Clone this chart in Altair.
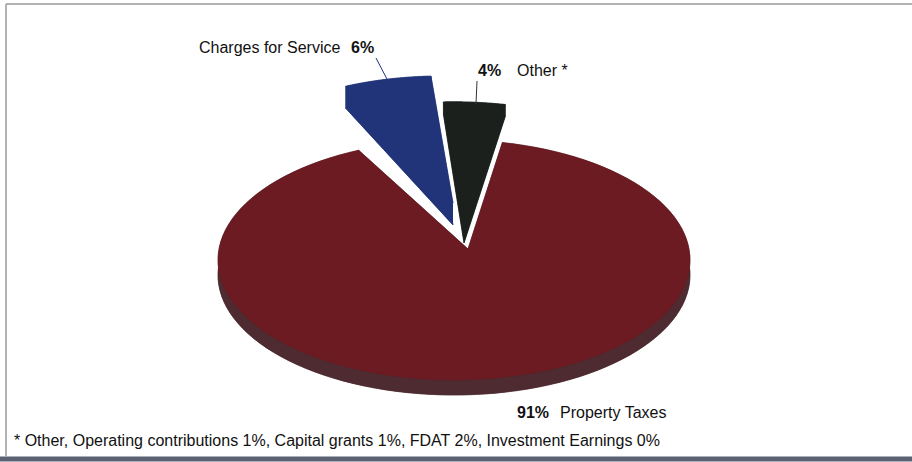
import altair as alt
import numpy as np
import pandas as pd

# ---------------- data ----------------
categories = ["Property Taxes", "Charges for Service", "Other *"]
percents = [91, 6, 4]
footnote = "* Other, Operating contributions 1%, Capital grants 1%, FDAT 2%, Investment Earnings 0%"

# ---------------- layout / style ----------------
W, H = 912, 462
CX, CY, A, B = 454, 260, 236, 120      # ellipse of the pie top surface
GAP_CENTER = -6                         # degrees, centre of the exploded wedge pair
FONT = "Liberation Sans"

style = {
    "Property Taxes": dict(dx=0, dy=0, s=1.0, vdx=14, vdy=-11, depth=15,
                           top="#6b1b21", side="#4d2b30"),
    "Charges for Service": dict(dx=-13, dy=-64, s=1.0, vdx=-1, vdy=-57, depth=22,
                                top="#213479", side="#213479"),
    "Other *": dict(dx=0, dy=-31, s=1.06, vdx=10, vdy=-29, depth=12,
                    top="#1b201d", side="#1b201d"),
}
label_pos = {
    "Property Taxes": dict(px=517, nx=560, y=418),
    "Charges for Service": dict(px=351, nx=199, y=53),
    "Other *": dict(px=478, nx=517, y=76),
}

# ---------------- slice geometry from the values ----------------
total = float(sum(percents))
order_cw = ["Charges for Service", "Other *", "Property Taxes"]
val = dict(zip(categories, percents))
start = GAP_CENTER - (val["Charges for Service"] + val["Other *"]) / total * 360 / 2

rows = []


def add(cat, part, piece, xs, ys):
    for i, (x, y) in enumerate(zip(xs, ys)):
        rows.append(dict(cat=cat, part=part, piece=piece, i=i, x=x, y=y))


a0 = start
for cat in order_cw:
    a1 = a0 + val[cat] / total * 360
    st = style[cat]
    d = st["depth"]
    th = np.radians(np.linspace(a0, a1, 120))
    ax = CX + st["dx"] + A * st["s"] * np.sin(th)
    ay = CY + st["dy"] - B * st["s"] * np.cos(th)
    vx, vy = CX + st["vdx"], CY + st["vdy"]
    tx = np.concatenate([[vx], ax, [vx]])
    ty = np.concatenate([[vy], ay, [vy]])
    # extruded side pieces
    add(cat, "side", "bottom", tx, ty + d)
    add(cat, "side", "band", np.concatenate([ax, ax[::-1]]), np.concatenate([ay, ay[::-1] + d]))
    add(cat, "side", "edge0", [vx, ax[0], ax[0], vx], [vy, ay[0], ay[0] + d, vy + d])
    add(cat, "side", "edge1", [vx, ax[-1], ax[-1], vx], [vy, ay[-1], ay[-1] + d, vy + d])
    # top surface
    add(cat, "top", "top", tx, ty)
    a0 = a1
poly = pd.DataFrame(rows)

xsc = alt.Scale(domain=[0, W], range=[0, W], nice=False, zero=False)
ysc = alt.Scale(domain=[0, H], range=[0, H], nice=False, zero=False)

layers = []
for cat in ["Property Taxes", "Charges for Service", "Other *"]:
    for part in ("side", "top"):
        col = style[cat][part]
        sub = poly[(poly.cat == cat) & (poly.part == part)]
        layers.append(
            alt.Chart(sub).mark_line(fill=col, stroke=col, strokeWidth=0.5, interpolate="linear")
            .encode(x=alt.X("x:Q", scale=xsc, axis=None),
                    y=alt.Y("y:Q", scale=ysc, axis=None),
                    detail="piece:N",
                    order="i:Q")
        )

# ---------------- labels ----------------
lab = pd.DataFrame({
    "cat": categories,
    "pct": [f"{p}%" for p in percents],
    "px": [label_pos[c]["px"] for c in categories],
    "nx": [label_pos[c]["nx"] for c in categories],
    "y": [label_pos[c]["y"] for c in categories],
})
pct_text = alt.Chart(lab).mark_text(align="left", baseline="alphabetic", font=FONT,
                                    fontSize=16, fontWeight="bold", color="#111111").encode(
    x=alt.X("px:Q", scale=xsc, axis=None), y=alt.Y("y:Q", scale=ysc, axis=None), text="pct:N")
name_text = alt.Chart(lab).mark_text(align="left", baseline="alphabetic", font=FONT,
                                     fontSize=16, color="#111111").encode(
    x=alt.X("nx:Q", scale=xsc, axis=None), y=alt.Y("y:Q", scale=ysc, axis=None), text="cat:N")

foot = alt.Chart(pd.DataFrame({"t": [footnote]})).mark_text(
    align="left", baseline="alphabetic", font=FONT, fontSize=16, color="#111111").encode(
    x=alt.value(14), y=alt.value(446), text="t:N")

leader_blue = alt.Chart(pd.DataFrame({"k": [0]})).mark_rule(color="#213479", strokeWidth=1).encode(
    x=alt.value(376), y=alt.value(58), x2=alt.value(388), y2=alt.value(81))
leader_black = alt.Chart(pd.DataFrame({"k": [0]})).mark_rule(color="#333333", strokeWidth=1).encode(
    x=alt.value(477), y=alt.value(81), x2=alt.value(476), y2=alt.value(104))

# ---------------- frame ----------------
frame_top = alt.Chart(pd.DataFrame({"k": [0]})).mark_rule(color="#9a9a9a", strokeWidth=1.5).encode(
    x=alt.value(6), x2=alt.value(912), y=alt.value(4))
frame_left = alt.Chart(pd.DataFrame({"k": [0]})).mark_rule(color="#9a9a9a", strokeWidth=1.5).encode(
    x=alt.value(6), y=alt.value(4), y2=alt.value(456))
frame_bottom = alt.Chart(pd.DataFrame({"k": [0]})).mark_rule(color="#5b6273", strokeWidth=5).encode(
    x=alt.value(0), x2=alt.value(912), y=alt.value(459))

chart = alt.layer(
    *layers, leader_blue, leader_black, pct_text, name_text, foot,
    frame_top, frame_left, frame_bottom
).properties(
    width=W, height=H, padding=0, autosize=alt.AutoSizeParams(type="none"),
    background="white"
).configure_view(stroke=None)

chart.save("out.html", embed_options={"renderer": "svg", "actions": False})
